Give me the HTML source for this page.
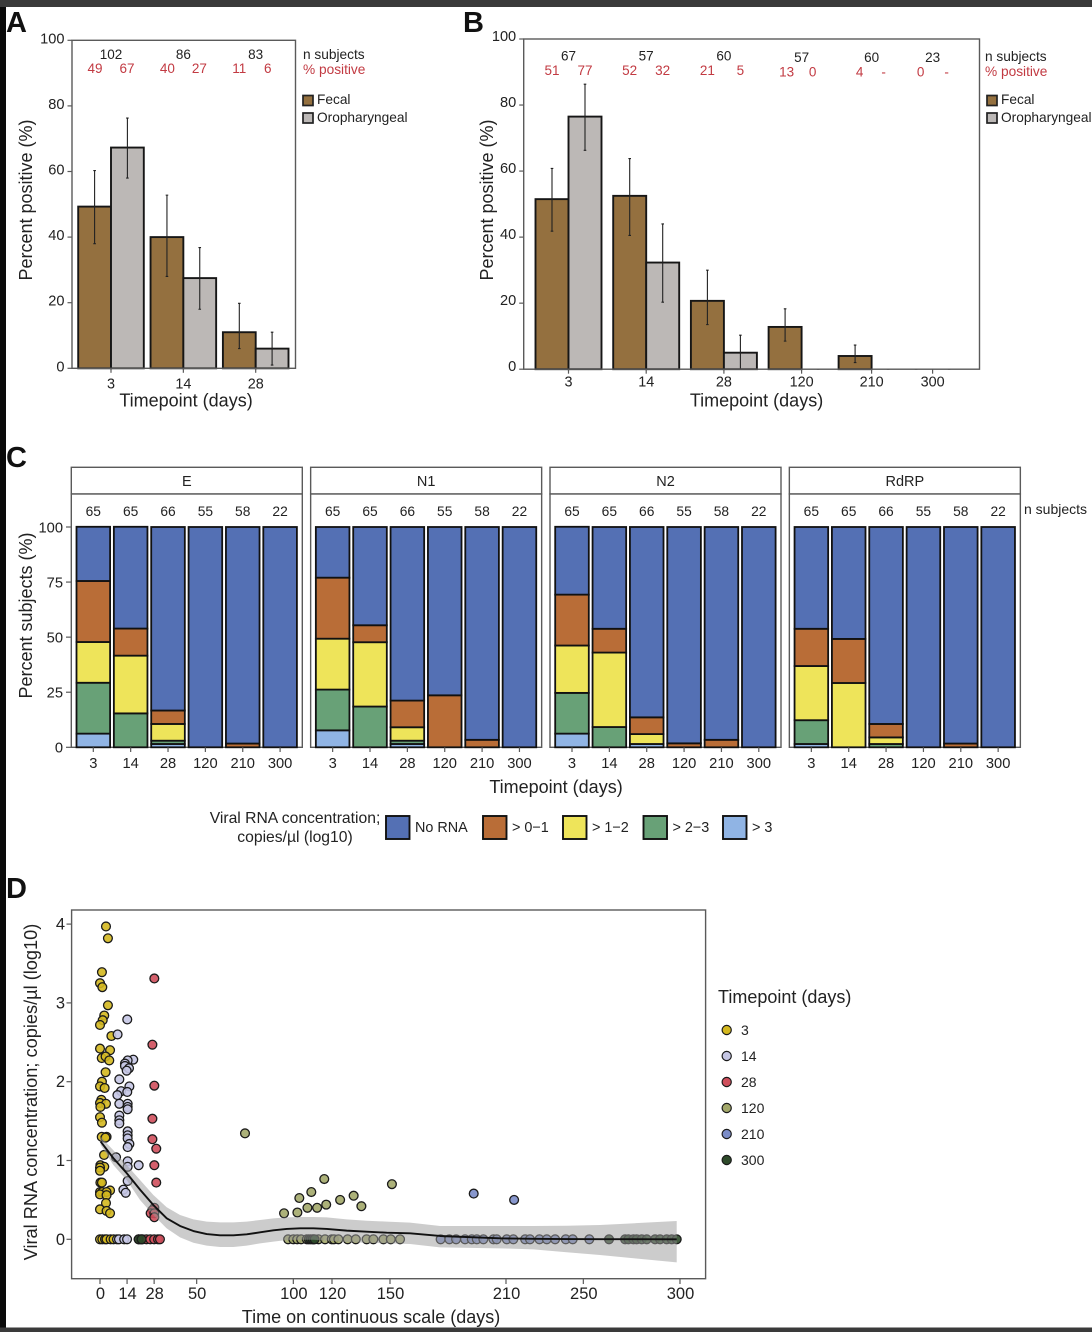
<!DOCTYPE html>
<html lang="en">
<head>
<meta charset="utf-8">
<title>Viral RNA positivity over time</title>
<style>
html,body{margin:0;padding:0;background:#fff;width:1092px;height:1332px;overflow:hidden}
svg{display:block;filter:blur(0.35px)}
text{font-family:"Liberation Sans",Arial,sans-serif;fill:#222}
</style>
</head>
<body>
<svg id="figure" xmlns="http://www.w3.org/2000/svg" width="1092" height="1332" viewBox="0 0 1092 1332">
  <rect x="0" y="0" width="1092" height="1332" fill="#fff"/>
  <g id="panelA"></g>
  <g id="panelB"></g>
  <g id="panelC"></g>
  <g id="panelD"></g>

  <text x="6" y="32" font-size="29" font-weight="700" style="fill:#111">A</text>
  <text x="463" y="32" font-size="29" font-weight="700" style="fill:#111">B</text>
  <text x="6" y="467" font-size="29" font-weight="700" style="fill:#111">C</text>
  <text x="6" y="898" font-size="29" font-weight="700" style="fill:#111">D</text>

  <text transform="translate(32,200) rotate(-90)" text-anchor="middle" font-size="18">Percent positive (%)</text>
  <text x="186" y="406.500" text-anchor="middle" font-size="18">Timepoint (days)</text>
  <text x="303" y="59" font-size="13.700">n subjects</text>
  <text x="303" y="74" font-size="13.700" style="fill:#c23a42">% positive</text>
  <rect x="303" y="95.500" width="10" height="10" fill="#94703f" stroke="#222" stroke-width="1.700"/>
  <text x="317" y="104" font-size="13.700">Fecal</text>
  <rect x="303" y="113" width="10" height="10" fill="#bcb8b6" stroke="#222" stroke-width="1.700"/>
  <text x="317" y="122" font-size="13.700">Oropharyngeal</text>

  <text transform="translate(493,200) rotate(-90)" text-anchor="middle" font-size="18">Percent positive (%)</text>
  <text x="756.500" y="406.500" text-anchor="middle" font-size="18">Timepoint (days)</text>
  <text x="985" y="61" font-size="13.700">n subjects</text>
  <text x="985" y="76" font-size="13.700" style="fill:#c23a42">% positive</text>
  <rect x="987" y="95.500" width="10" height="10" fill="#94703f" stroke="#222" stroke-width="1.700"/>
  <text x="1001" y="104" font-size="13.700">Fecal</text>
  <rect x="987" y="113" width="10" height="10" fill="#bcb8b6" stroke="#222" stroke-width="1.700"/>
  <text x="1001" y="122" font-size="13.700">Oropharyngeal</text>

  <text transform="translate(32,615.500) rotate(-90)" text-anchor="middle" font-size="18">Percent subjects (%)</text>
  <text x="556" y="793" text-anchor="middle" font-size="18">Timepoint (days)</text>
  <text x="1024" y="514" font-size="14">n subjects</text>
  <text x="295" y="823" text-anchor="middle" font-size="15.700">Viral RNA concentration;</text>
  <text x="295" y="842" text-anchor="middle" font-size="15.700">copies/µl (log10)</text>

  <text transform="translate(37,1092) rotate(-90)" text-anchor="middle" font-size="18.200">Viral RNA concentration; copies/µl (log10)</text>
  <text x="371" y="1323" text-anchor="middle" font-size="18">Time on continuous scale (days)</text>
  <text x="718" y="1003" font-size="18">Timepoint (days)</text>

  <rect x="0" y="0" width="1092" height="7" fill="#3a3a3a"/>
  <rect x="0" y="7" width="6" height="1321" fill="#0a0a0a"/>
  <rect x="0" y="1327.500" width="1092" height="5" fill="#3a3a3a"/>
</svg>
<script>
// ---------- Panel A data ----------
const aCategories = ['3', '14', '28'];
const aFecal = [49.3, 40, 11];
const aOro = [67.3, 27.5, 6];
const aFecalLow = [38, 28, 6];
const aFecalHigh = [60.3, 52.8, 19.8];
const aOroLow = [58, 18, 1];
const aOroHigh = [76.3, 36.8, 11];
const aSubjects = ['102', '86', '83'];
const aFecalPct = ['49', '40', '11'];
const aOroPct = ['67', '27', '6'];
const abYTicks = [0, 20, 40, 60, 80, 100];

// ---------- Panel B data ----------
const bCategories = ['3', '14', '28', '120', '210', '300'];
const bFecal = [51.5, 52.5, 20.7, 12.8, 4, 0];
const bOro = [76.5, 32.3, 5, 0, 0, 0];
const bFecalLow = [41.8, 40.5, 13.5, 8.5, 2, 0];
const bFecalHigh = [60.8, 63.8, 30, 18.3, 7.3, 0];
const bOroLow = [66.3, 20.3, 0, 0, 0, 0];
const bOroHigh = [86.3, 44, 10.3, 0, 0, 0];
const bSubjects = ['67', '57', '60', '57', '60', '23'];
const bFecalPct = ['51', '52', '21', '13', '4', '0'];
const bOroPct = ['77', '32', '5', '0', '-', '-'];

// ---------- Panel C data ----------
const cCategories = ['3', '14', '28', '120', '210', '300'];
const cSubjects = ['65', '65', '66', '55', '58', '22'];
const cYTicks = [0, 25, 50, 75, 100];
const cGenes = ['E', 'N1', 'N2', 'RdRP'];
const cLegendLabels = ['No RNA', '> 0\u22121', '> 1\u22122', '> 2\u22123', '> 3'];

const eNoRna = [24.6, 46.2, 83.3, 100, 98.3, 100];
const eLow = [27.7, 12.3, 6.1, 0, 1.7, 0];
const eMid = [18.5, 26.2, 7.6, 0, 0, 0];
const eHigh = [23.1, 15.4, 1.5, 0, 0, 0];
const eTop = [6.2, 0, 1.5, 0, 0, 0];

const n1NoRna = [23, 44.6, 78.8, 76.4, 96.6, 100];
const n1Low = [27.7, 7.7, 12.1, 23.6, 3.4, 0];
const n1Mid = [23.1, 29.2, 6.1, 0, 0, 0];
const n1High = [18.5, 18.5, 1.5, 0, 0, 0];
const n1Top = [7.7, 0, 1.5, 0, 0, 0];

const n2NoRna = [30.8, 46.2, 86.4, 98.2, 96.6, 100];
const n2Low = [23.1, 10.8, 7.6, 1.8, 3.4, 0];
const n2Mid = [21.5, 33.8, 4.5, 0, 0, 0];
const n2High = [18.5, 9.2, 0, 0, 0, 0];
const n2Top = [6.2, 0, 1.5, 0, 0, 0];

const rdNoRna = [46.2, 50.8, 89.4, 100, 98.3, 100];
const rdLow = [16.9, 20, 6.1, 0, 1.7, 0];
const rdMid = [24.6, 29.2, 3, 0, 0, 0];
const rdHigh = [10.8, 0, 1.5, 0, 0, 0];
const rdTop = [1.5, 0, 0, 0, 0, 0];

// ---------- Panel D data ----------
const dXTicks = [0, 14, 28, 50, 100, 120, 150, 210, 250, 300];
const dYTicks = [0, 1, 2, 3, 4];
const dLegendLabels = ['3', '14', '28', '120', '210', '300'];

const day3Days = [3.1,4.1,1,0,1.2,4.1,2.2,1.4,0,5.9,0,5.2,0.9,2.9,4.8,2.9,1,0,2.4,0.7,0,3.1,0.2,0,1,0.9,3.4,2.8,2.1,0.2,2.2,0,0,0.2,1,5.2,0,1.2,3.4,0,3.4,3.1,0,3.4,5.2,0,1.2,2.6,3.4,5.5,7];
const day3Values = [3.97,3.82,3.39,3.25,3.2,2.97,2.84,2.78,2.72,2.58,2.42,2.4,2.3,2.32,2.27,2.12,2,1.94,1.92,1.77,1.73,1.72,1.68,1.55,1.48,1.3,1.3,1.29,1.07,0.94,0.92,0.91,0.87,0.72,0.72,0.62,0.6,0.6,0.6,0.57,0.56,0.46,0.38,0.36,0.33,0,0,0,0,0,0];

const day14Days = [9.1,14.1,17.2,14.3,12.9,12.9,15,13.8,10,15.2,10.9,14.1,9,10,14.3,14.3,14.3,10,10,10,14.3,14.3,14.3,15.2,14.3,8.3,14.3,14.3,20,14.3,12.1,13.3,8.8,9.8,12.5,14];
const day14Values = [2.6,2.79,2.28,2.27,2.23,2.2,2.17,2.14,2.03,1.94,1.88,1.87,1.83,1.72,1.72,1.68,1.65,1.57,1.51,1.47,1.37,1.32,1.28,1.21,1.17,1.04,0.99,0.92,0.94,0.74,0.63,0.59,0,0,0,0];

const day28Days = [28.1,27.1,28.1,27.1,27.1,29.1,28.1,29.1,28.1,27.1,26.2,28.1,28.1,20,21,22,24,26,28,30,31];
const day28Values = [3.31,2.47,1.95,1.53,1.27,1.15,0.94,0.72,0.4,0.37,0.33,0.33,0.28,0,0,0,0,0,0,0,0];

const day120Days = [75,95.2,102.1,103.1,107.3,109.3,112.3,116,117,124.2,131.2,135.2,151,97.3,100,102,104,107,110.4,113,116.4,119.9,121,123.3,128.1,132.3,137.9,141.4,146.6,150.4,155.2];
const day120Values = [1.345,0.33,0.34,0.524,0.4,0.6,0.4,0.765,0.44,0.5,0.553,0.42,0.7,0,0,0,0,0,0,0,0,0,0,0,0,0,0,0,0,0,0];

const day210Days = [193.3,214.2,176.2,180.7,184.2,188.8,192.3,194.9,198.3,203.5,205.2,210.4,213.8,219.9,222.4,227.3,231.1,235.4,240.9,244.5,253.1];
const day210Values = [0.58,0.5,0,0,0,0,0,0,0,0,0,0,0,0,0,0,0,0,0,0,0];

const day300Days = [20,21.5,108,109,110,111,263.3,271.6,273.3,275.9,277.6,280.2,282.8,287.1,289.7,293.1,295.7,298.3];
const day300Values = [0,0,0,0,0,0,0,0,0,0,0,0,0,0,0,0,0,0];

const smoothDays = [0.34,6.9,13.8,20.7,27.6,34.5,41.4,48.3,55.2,62.1,69,75.9,82.8,89.7,96.6,103.5,110.4,117.3,127.6,138,148.3,160.4,175.9,206.9,224.2,241.4,258.6,298.3];
const smoothFit = [1.24,1.03,0.84,0.63,0.435,0.266,0.169,0.105,0.067,0.05,0.05,0.063,0.088,0.114,0.131,0.139,0.139,0.131,0.11,0.097,0.084,0.076,0.042,0.012,0.006,0.003,0.002,0];
const smoothUpper = [1.3,1.13,0.943,0.752,0.562,0.406,0.308,0.253,0.224,0.215,0.215,0.224,0.245,0.266,0.279,0.283,0.283,0.279,0.253,0.236,0.224,0.211,0.168,0.168,0.168,0.172,0.181,0.232];
const smoothLower = [1.197,0.943,0.752,0.499,0.308,0.139,0.025,-0.043,-0.081,-0.098,-0.098,-0.081,-0.051,-0.03,-0.009,-0.005,-0.005,-0.017,-0.034,-0.043,-0.051,-0.06,-0.102,-0.115,-0.128,-0.165,-0.2,-0.293];

// ---------- Helpers ----------
const NS = 'http://www.w3.org/2000/svg';
function svgEl(parent, tag, attrs) {
  const el = document.createElementNS(NS, tag);
  for (const k in attrs) el.setAttribute(k, attrs[k]);
  parent.appendChild(el);
  return el;
}
function svgText(parent, x, y, str, size, anchor, fill) {
  const el = svgEl(parent, 'text', {x: x, y: y, 'font-size': size, 'text-anchor': anchor});
  if (fill) el.style.fill = fill;
  el.textContent = str;
  return el;
}

const FECAL = '#94703f';
const ORO = '#bcb8b6';
const RED = '#c23a42';
const FRAME = '#5a5a5a';
const BAR_STROKE = '#161616';

// ---------- Panels A and B: grouped bar charts ----------
function drawBarPanel(cfg) {
  const g = document.getElementById(cfg.id);
  const yS = cfg.yS;
  const xS = cfg.xS;
  const prefix = cfg.prefix;

  cfg.categories.forEach(function (cat, i) {
    const c = xS(i);
    const fecalBar = svgEl(g, 'rect', {x: c - cfg.barW, y: yS(cfg.fecal[i]), width: cfg.barW, height: yS(0) - yS(cfg.fecal[i]), fill: FECAL, stroke: BAR_STROKE, 'stroke-width': 1.9});
    
    
    const oroBar = svgEl(g, 'rect', {x: c, y: yS(cfg.oro[i]), width: cfg.barW, height: yS(0) - yS(cfg.oro[i]), fill: ORO, stroke: BAR_STROKE, 'stroke-width': 1.9});
    
    
  });

  cfg.categories.forEach(function (cat, i) {
    const c = xS(i);
    [[c - cfg.barW / 2, cfg.fecalLow[i], cfg.fecalHigh[i], 'fecal'], [c + cfg.barW / 2, cfg.oroLow[i], cfg.oroHigh[i], 'oropharyngeal']].forEach(function (e) {
      const err = svgEl(g, 'path', {d: 'M' + (e[0] - 1.3) + ' ' + yS(e[2]) + 'H' + (e[0] + 1.3) + 'M' + e[0] + ' ' + yS(e[2]) + 'V' + yS(e[1]) + 'M' + (e[0] - 1.3) + ' ' + yS(e[1]) + 'H' + (e[0] + 1.3), fill: 'none', stroke: '#222', 'stroke-width': 1.1});
      
      
    });
  });

  const frame = svgEl(g, 'rect', {x: cfg.left, y: yS(100), width: cfg.right - cfg.left, height: yS(0) - yS(100), fill: 'none', stroke: FRAME, 'stroke-width': 1.4});
  
  

  abYTicks.forEach(function (t) {
    const tick = svgEl(g, 'line', {x1: cfg.left - 4.5, x2: cfg.left, y1: yS(t), y2: yS(t), stroke: FRAME, 'stroke-width': 1.2});
    
    
    const lab = svgText(g, cfg.left - 7.5, yS(t) + cfg.yLabelShift, String(t), 14.6, 'end');
    
    
  });

  cfg.categories.forEach(function (cat, i) {
    const c = xS(i);
    const tick = svgEl(g, 'line', {x1: c, x2: c, y1: yS(0), y2: yS(0) + 4.5, stroke: FRAME, 'stroke-width': 1.2});
    
    
    const lab = svgText(g, c, cfg.xLabelY, cat, 14.4, 'middle');
    
    
    const n = svgText(g, c, cfg.nY(i), cfg.subjects[i], 13.5, 'middle');
    
    
    const off = cfg.pctOffset(i);
    const pf = svgText(g, c + off[0], cfg.pctY(i), cfg.fecalPct[i], 13.5, 'middle', RED);
    
    
    const po = svgText(g, c + off[1], cfg.pctY(i), cfg.oroPct[i], 13.5, 'middle', RED);
    
    
  });
}

drawBarPanel({
  id: 'panelA', prefix: 'panel-a', left: 72, right: 295.5, barW: 32.8, xLabelY: 388.5, yLabelShift: 3,
  yS: function (v) { return 368.3 - 3.28 * v; },
  xS: function (i) { return 111 + 72.35 * i; },
  categories: aCategories, fecal: aFecal, oro: aOro, fecalLow: aFecalLow, fecalHigh: aFecalHigh, oroLow: aOroLow, oroHigh: aOroHigh,
  subjects: aSubjects, fecalPct: aFecalPct, oroPct: aOroPct,
  nY: function () { return 59; },
  pctY: function () { return 73; },
  pctOffset: function (i) { return i < 2 ? [-16, 16] : [-16.5, 12]; }
});

drawBarPanel({
  id: 'panelB', prefix: 'panel-b', left: 523.7, right: 979.5, barW: 33, xLabelY: 386.5, yLabelShift: 2,
  yS: function (v) { return 369.2 - 3.302 * v; },
  xS: function (i) { return 568.5 + 77.7 * Math.min(i, 3) + 70 * Math.max(0, Math.min(i - 3, 1)) + 61 * Math.max(0, i - 4); },
  categories: bCategories, fecal: bFecal, oro: bOro, fecalLow: bFecalLow, fecalHigh: bFecalHigh, oroLow: bOroLow, oroHigh: bOroHigh,
  subjects: bSubjects, fecalPct: bFecalPct, oroPct: bOroPct,
  nY: function (i) { return i < 3 ? 60.5 : 62; },
  pctY: function (i) { return i < 3 ? 75 : 76.5; },
  pctOffset: function (i) { return i < 3 ? [-16.5, 16.5] : i === 3 ? [-15, 11] : i === 4 ? [-12, 12] : [-12, 14]; }
});

// ---------- Panel C: stacked facets ----------
const cSeriesColors = ['#5470b4', '#b96d37', '#eee45a', '#68a177', '#90b4e4'];
const cStacks = {
  'E': [eNoRna, eLow, eMid, eHigh, eTop],
  'N1': [n1NoRna, n1Low, n1Mid, n1High, n1Top],
  'N2': [n2NoRna, n2Low, n2Mid, n2High, n2Top],
  'RdRP': [rdNoRna, rdLow, rdMid, rdHigh, rdTop]
};
(function () {
  const g = document.getElementById('panelC');
  const yC = function (v) { return 747.3 - 2.203 * v; };
  const step = 37.36;
  const barW = 33.6;
  const panelW = 231;
  const panelX = function (p) { return 71.3 + 239.35 * p; };
  const catX = function (p, i) { return panelX(p) + 22 + step * i; };

  cGenes.forEach(function (gene, p) {
    const px = panelX(p);
    const strip = svgEl(g, 'rect', {x: px, y: 467.3, width: panelW, height: 26.7, fill: '#fff', stroke: FRAME, 'stroke-width': 1.4});
    
    
    const stripLab = svgText(g, px + panelW / 2, 486, gene, 14.5, 'middle');
    
    
    const frame = svgEl(g, 'rect', {x: px, y: 494, width: panelW, height: 253.3, fill: '#fff', stroke: FRAME, 'stroke-width': 1.4});
    
    

    const stack = cStacks[gene];
    cCategories.forEach(function (cat, i) {
      const cx = catX(p, i);
      let cum = 0;
      for (let s = stack.length - 1; s >= 0; s--) {
        const v = stack[s][i];
        if (v <= 0) continue;
        const seg = svgEl(g, 'rect', {x: cx - barW / 2, y: yC(cum + v), width: barW, height: yC(cum) - yC(cum + v), fill: cSeriesColors[s], stroke: '#111', 'stroke-width': 1.8});
        
        
        cum += v;
      }
      const n = svgText(g, cx, 516, cSubjects[i], 13.8, 'middle');
      
      
      const tick = svgEl(g, 'line', {x1: cx, x2: cx, y1: 747.3, y2: 752, stroke: FRAME, 'stroke-width': 1.2});
      
      
      const lab = svgText(g, cx, 768, cat, 14.7, 'middle');
      
      
    });
  });

  cYTicks.forEach(function (t) {
    const tick = svgEl(g, 'line', {x1: 66, x2: 71.3, y1: yC(t), y2: yC(t), stroke: FRAME, 'stroke-width': 1.2});
    
    
    const lab = svgText(g, 63, yC(t) + 5.3, String(t), 14.7, 'end');
    
    
  });

  const swatchStep = [0, 97, 177, 257.5, 337];
  cLegendLabels.forEach(function (label, s) {
    const sx = 386 + swatchStep[s];
    const sw = svgEl(g, 'rect', {x: sx, y: 816, width: 23.5, height: 23, fill: cSeriesColors[s], stroke: '#111', 'stroke-width': 1.9});
    
    
    const lab = svgText(g, sx + 29, 832, label, 14.4, 'start');
    
    
  });
})();

// ---------- Panel D: scatter with smooth ----------
const dColors = ['#d4b81f', '#c5c6e4', '#cf4f5c', '#a3a86a', '#7b8cc8', '#2e4a2a'];
(function () {
  const g = document.getElementById('panelD');
  const xD = function (d) { return 100 + 1.9333 * d; };
  const yD = function (v) { return 1239.3 - 78.8 * v; };

  const series = [[day3Days, day3Values], [day14Days, day14Values], [day28Days, day28Values], [day120Days, day120Values], [day210Days, day210Values], [day300Days, day300Values]];
  series.forEach(function (sr, s) {
    sr[0].forEach(function (d, i) {
      const pt = svgEl(g, 'circle', {cx: xD(d), cy: yD(sr[1][i]), r: 4.4, fill: dColors[s], 'fill-opacity': 0.9, stroke: '#1a1a1a', 'stroke-width': 1.3});
      
      
    });
  });

  let ribbonPts = smoothDays.map(function (d, i) { return xD(d) + ',' + yD(smoothUpper[i]); });
  ribbonPts = ribbonPts.concat(smoothDays.map(function (d, i) { return xD(d) + ',' + yD(smoothLower[i]); }).reverse());
  const ribbon = svgEl(g, 'polygon', {points: ribbonPts.join(' '), fill: '#999', 'fill-opacity': 0.5, stroke: 'none'});
  
  

  const fitPts = smoothDays.map(function (d, i) { return xD(d) + ',' + yD(smoothFit[i]); });
  const fit = svgEl(g, 'polyline', {points: fitPts.join(' '), fill: 'none', stroke: '#111', 'stroke-width': 1.9, 'stroke-linejoin': 'round'});
  
  

  const frame = svgEl(g, 'rect', {x: 71.6, y: 910, width: 634, height: 368.7, fill: 'none', stroke: FRAME, 'stroke-width': 1.4});
  
  

  dYTicks.forEach(function (t) {
    const tick = svgEl(g, 'line', {x1: 66.5, x2: 71.6, y1: yD(t), y2: yD(t), stroke: FRAME, 'stroke-width': 1.2});
    
    
    const lab = svgText(g, 65, yD(t) + 5.5, String(t), 16.5, 'end');
    
    
  });
  dXTicks.forEach(function (t) {
    const tick = svgEl(g, 'line', {x1: xD(t), x2: xD(t), y1: 1278.7, y2: 1284, stroke: FRAME, 'stroke-width': 1.2});
    
    
    const lab = svgText(g, xD(t) + 0.5, 1299, String(t), 16.5, 'middle');
    
    
  });

  dLegendLabels.forEach(function (label, s) {
    const ly = 1030 + 26 * s;
    const key = svgEl(g, 'circle', {cx: 726.7, cy: ly, r: 4.6, fill: dColors[s], stroke: '#1a1a1a', 'stroke-width': 1.2});
    
    
    const lab = svgText(g, 741, ly + 5, label, 14, 'start');
    
    
  });
})();
</script>
</body>
</html>
